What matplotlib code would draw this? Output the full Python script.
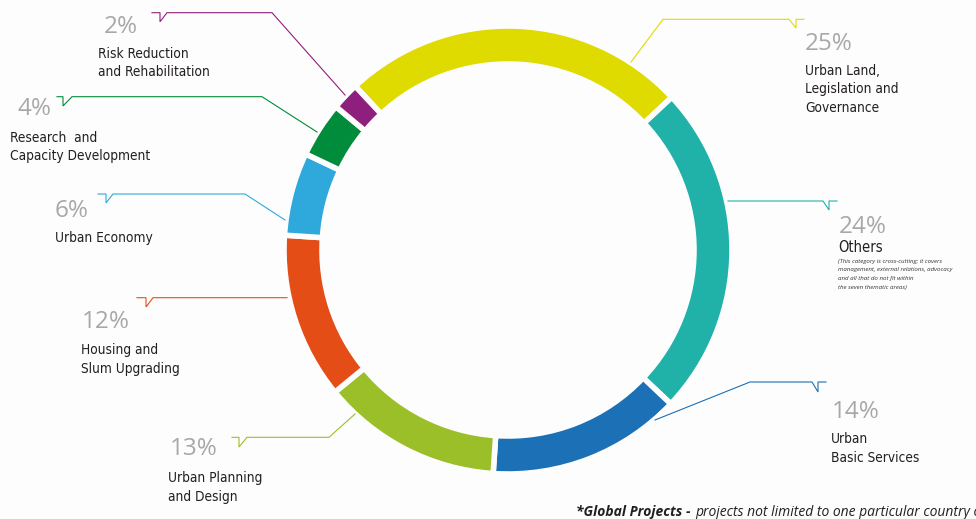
import matplotlib
matplotlib.use('Agg')
import matplotlib.pyplot as plt
from matplotlib import font_manager
from matplotlib.font_manager import FontProperties

# slices, clockwise from the top-left
shares = [25, 24, 14, 13, 12, 6, 4, 2]
pct_labels = ['25%', '24%', '14%', '13%', '12%', '6%', '4%', '2%']
names = ['Urban Land,\nLegislation and\nGovernance',
         'Others',
         'Urban\nBasic Services',
         'Urban Planning\nand Design',
         'Housing and\nSlum Upgrading',
         'Urban Economy',
         'Research  and\nCapacity Development',
         'Risk Reduction\nand Rehabilitation']
colors = ['#dfdb00', '#20b1a9', '#1b70b6', '#9bbf29', '#e44e16', '#2fa9db', '#008c3a', '#8f1f7c']
others_note = ['(This category is cross-cutting; it covers',
               'management, external relations, advocacy',
               'and all that do not fit within',
               'the seven thematic areas)']
foot_bold = '*Global Projects -'
foot_rest = 'projects not limited to one particular country or region'

W, H = 976, 519


def fy(y):
    # image row -> axes y
    return H - y


def narrow_font():
    # look for a condensed sans face, else plain DejaVu
    files = [f.fname for f in font_manager.fontManager.ttflist]
    for key in ['LiberationSansNarrow-Regular', 'DejaVuSansCondensed.ttf']:
        for fn in files:
            if fn.endswith(key + '.ttf') or fn.endswith(key):
                return FontProperties(fname=fn)
    return FontProperties(family='DejaVu Sans')


fig = plt.figure(figsize=(W / 100, H / 100), dpi=100)
fig.patch.set_facecolor('#fdfdfd')
ax = fig.add_axes([0, 0, 1, 1])

ax.pie(shares, colors=colors, startangle=133, counterclock=False,
       radius=224, center=(508, fy(250)),
       wedgeprops=dict(width=38, edgecolor='#fdfdfd', linewidth=4))
ax.set_xlim(0, W)
ax.set_ylim(0, H)
ax.set_aspect('equal')
ax.axis('off')

# callout lines (image pixel coords), same order as the slices
callouts = [
    [(631, 62), (663, 19.3), (789, 19.3), (796, 28), (796, 19.3), (804, 19.3)],
    [(728, 201), (823, 201), (829, 210), (829, 201), (837, 201)],
    [(655, 420), (750, 382), (812, 382), (818, 392), (818, 382), (826, 382)],
    [(232, 437.3), (239, 437.3), (239, 447), (247, 437.3), (329, 437.3), (355, 414)],
    [(137, 297.7), (146, 297.7), (146, 307), (153, 297.7), (287, 297.7)],
    [(98, 194), (106, 194), (106, 203), (113, 194), (245, 194), (285, 220)],
    [(57, 96.7), (63, 96.7), (63, 106), (72, 96.7), (262, 96.7), (317, 132)],
    [(152, 12.7), (160, 12.7), (160, 21.7), (167, 12.7), (272, 12.7), (345, 95)],
]
for pts, c in zip(callouts, colors):
    ax.plot([p[0] for p in pts], [fy(p[1]) for p in pts], color=c, lw=0.8,
            solid_joinstyle='miter')

# text anchors: (x, baseline of percent, baseline of first name line)
pct_pos = [(805, 50), (839, 233), (832, 418), (170, 455), (82, 328), (55, 217), (17, 115), (104, 33)]
name_pos = [(805, 75), (838, 252), (831, 443), (168, 482), (81, 354), (55, 242), (10, 141.5), (98, 58)]

lab_fp = narrow_font()
for i in range(len(shares)):
    ax.text(pct_pos[i][0], fy(pct_pos[i][1]), pct_labels[i], fontsize=17.5,
            color='#a8a8a8', family='Open Sans', va='baseline')
    size = 10.5 if names[i] == 'Others' else 9.8
    for k, line in enumerate(names[i].split('\n')):
        ax.text(name_pos[i][0], fy(name_pos[i][1] + 18.5 * k), line, fontproperties=lab_fp,
                fontsize=size, color='#231f20', va='baseline')

for k, line in enumerate(others_note):
    ax.text(838, fy(263 + 8.5 * k), line, fontsize=4.4, style='italic', color='#333333',
            family='Open Sans', va='baseline')

t = ax.text(576, fy(516), foot_bold, fontsize=10, style='italic', fontweight='bold',
            color='#231f20', family='Open Sans', va='baseline')
fig.canvas.draw()
x_end = t.get_window_extent().x1
ax.text(x_end + 5, fy(516), foot_rest, fontsize=10, style='italic',
        color='#231f20', family='Open Sans', va='baseline')

fig.savefig('out.png', dpi=100, facecolor=fig.get_facecolor())
